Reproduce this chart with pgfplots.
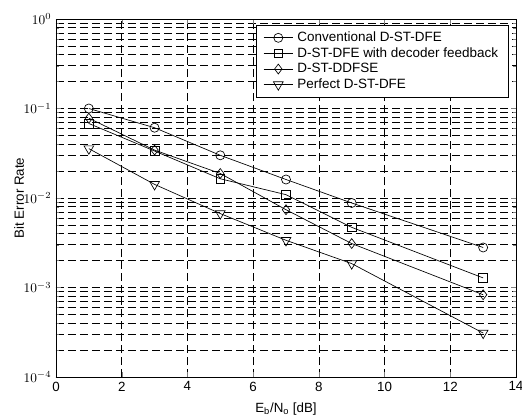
\documentclass[border=0pt]{standalone}
\usepackage{pgfplots}
\pgfplotsset{compat=1.18}
\usepackage{fontspec}
\setmainfont{Liberation Sans}
\begin{document}
\begin{tikzpicture}
\begin{semilogyaxis}[
  scale only axis,
  width=345pt, height=268.5pt,
  xmin=0, xmax=14, ymin=1e-4, ymax=1,
  xtick={0,2,...,14},
  ytick={1e-4,1e-3,1e-2,1e-1,1},
  grid=both,
  major grid style={black, dash pattern=on 6pt off 3pt, line width=0.5pt},
  minor grid style={black, dash pattern=on 6pt off 3pt, line width=0.5pt},
  tick align=inside, tickpos=both,
  major tick length=4pt, minor tick length=2.5pt,
  axis line style={line width=0.6pt},
  tick label style={font=\fontsize{10}{12}\selectfont},
  /pgf/number format/assume math mode=true,
  xlabel={E$_\mathrm{b}$/N$_\mathrm{o}$ [dB]},
  ylabel={Bit Error Rate},
  label style={font=\fontsize{10}{12}\selectfont},
  xlabel style={at={(axis description cs:0.5,-0.0978)}, anchor=base},
  ylabel style={at={(axis description cs:-0.0804,0.5)}, anchor=center},
  legend style={at={(0.985,0.983)}, anchor=north east, draw=black, line width=0.6pt,
    font=\fontsize{10.1}{12}\selectfont, fill=white, inner xsep=5pt, inner ysep=3.5pt,
    row sep=0.2pt, cells={anchor=west},
    nodes={inner xsep=3pt, inner ysep=1.5pt, text height=7pt, text depth=1.5pt}},
  legend image code/.code={%
    \draw[mark repeat=2,mark phase=2] plot coordinates {(0cm,0cm)(0.39cm,0cm)(0.78cm,0cm)};},
  every axis plot/.append style={black, line width=0.5pt, mark options={solid, fill=white, line width=0.5pt}},
]
\addplot[mark=o, mark size=3.4pt] coordinates {
 (1,0.100)(3,0.061)(5,0.030)(7,0.0161)(9,0.0088)(13,0.0028)
};
\addlegendentry{Conventional D-ST-DFE}
\addplot[mark=square, mark size=3.3pt] coordinates {
 (1,0.068)(3,0.0335)(5,0.0164)(7,0.0109)(9,0.0047)(13,0.00128)
};
\addlegendentry{D-ST-DFE with decoder feedback}
\addplot[mark=diamond, mark size=3.7pt] coordinates {
 (1,0.078)(3,0.0343)(5,0.0188)(7,0.0074)(9,0.0031)(13,0.00083)
};
\addlegendentry{D-ST-DDFSE}
\addplot[mark=triangle, mark size=4.2pt, mark options={rotate=180}] coordinates {
 (1,0.0356)(3,0.0142)(5,0.0067)(7,0.00337)(9,0.00185)(13,0.00031)
};
\addlegendentry{Perfect D-ST-DFE}
\end{semilogyaxis}
\pgfresetboundingbox
\path (current axis.south west) ++(-42pt,-31.5pt) coordinate (bbl);
\path (current axis.north east) ++(4.5pt,14.25pt) coordinate (bbr);
\path[use as bounding box] (bbl) rectangle (bbr);
\end{tikzpicture}
\end{document}
